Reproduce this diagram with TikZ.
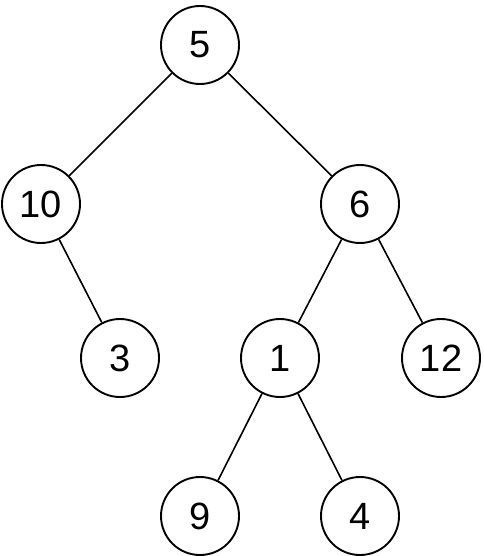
\documentclass[tikz,border=0pt]{standalone}
\usepackage{fontspec}
\setmainfont{Liberation Sans}
\usepackage{tikz}
\usetikzlibrary{positioning}

\begin{document}
\begin{tikzpicture}[x=1pt, y=-1pt,
  every node/.style={font=\fontsize{38}{40}\selectfont},
  vert/.style={circle, draw, line width=1.9pt, minimum size=78pt, inner sep=0pt},
  edge/.style={line width=1.6pt}]
\useasboundingbox (0,0) rectangle (483,556);
% levels of the tree
\node[vert] (n5)  at (200,45)  {5};
\node[vert] (n10) at (41,204)  {10};
\node[vert] (n6)  at (360,204) {6};
\node[vert] (n3)  at (120,358) {3};
\node[vert] (n1)  at (280,358) {1};
\node[vert] (n12) at (441,358) {12};
\node[vert] (n9)  at (200,516) {9};
\node[vert] (n4)  at (360,516) {4};
% edges
\draw[edge] (n5) -- (n10);
\draw[edge] (n5) -- (n6);
\draw[edge] (n10) -- (n3);
\draw[edge] (n6) -- (n1);
\draw[edge] (n6) -- (n12);
\draw[edge] (n1) -- (n9);
\draw[edge] (n1) -- (n4);
\end{tikzpicture}
\end{document}
